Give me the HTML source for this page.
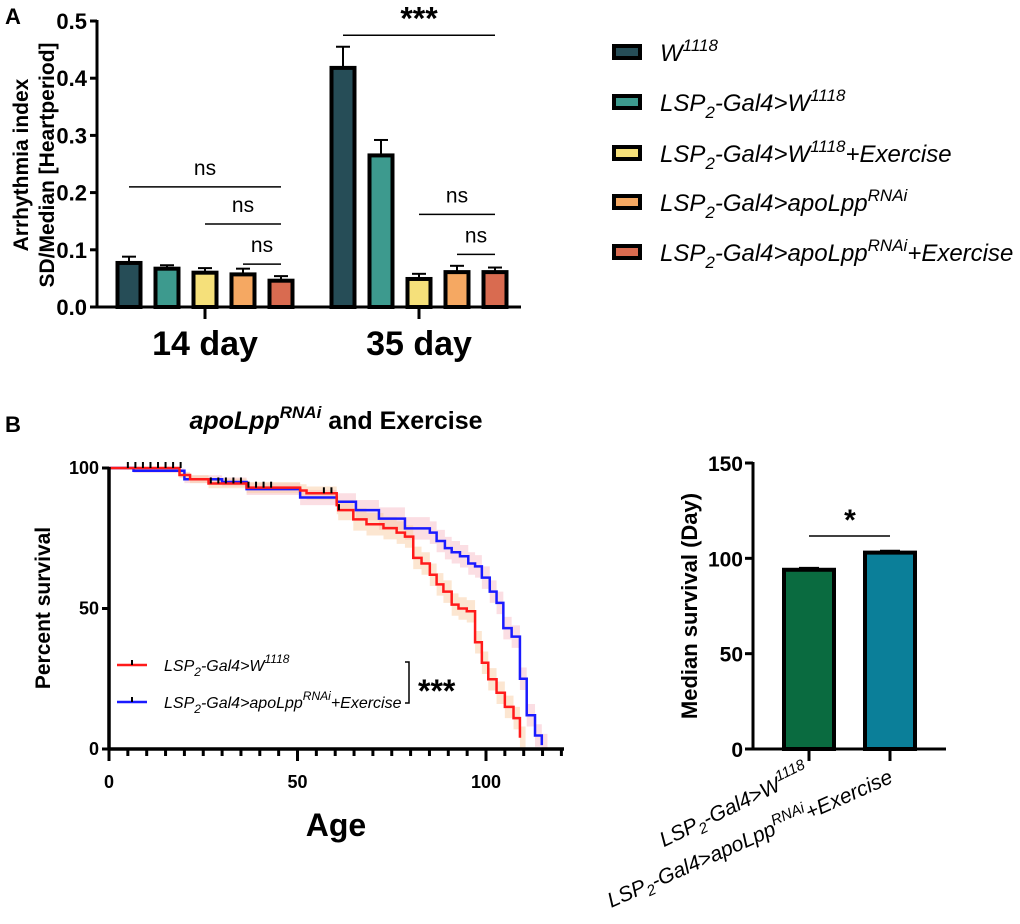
<!DOCTYPE html>
<html><head><meta charset="utf-8">
<style>
html,body{margin:0;padding:0;background:#fff;}
svg{display:block;font-family:"Liberation Sans",Arial,sans-serif;}
</style></head>
<body>
<svg id="fig" width="1020" height="924" viewBox="0 0 1020 924" xmlns="http://www.w3.org/2000/svg">
  <g id="panelA"></g>
  <g id="legendA"></g>
  <g id="panelB"></g>
  <g id="panelC"></g>
</svg>
<script>
// ---------- Panel A data ----------
const groupsA = ["14 day", "35 day"];
const seriesNamesA = ["W1118", "LSP2-Gal4>W1118", "LSP2-Gal4>W1118+Exercise", "LSP2-Gal4>apoLppRNAi", "LSP2-Gal4>apoLppRNAi+Exercise"];
const day14Values = [0.077, 0.067, 0.060, 0.057, 0.046];
const day14Errors = [0.011, 0.006, 0.008, 0.010, 0.008];
const day35Values = [0.418, 0.265, 0.049, 0.061, 0.061];
const day35Errors = [0.037, 0.027, 0.009, 0.011, 0.008];
const yTicksA = [0.0, 0.1, 0.2, 0.3, 0.4, 0.5];
const colorsA = ["#264d57", "#3d9a8e", "#f5e07a", "#f5a862", "#d96b50"];

// ---------- Panel B survival data (age, percent) ----------
const redAges = [0, 18.7, 21.5, 26.4, 36.5, 50.7, 52.4, 60.4, 60.8, 64.8, 68.3, 72.8, 76.3, 78.5, 80.7, 82.9, 85.1, 86.9, 88.7, 90.9, 92.7, 94.9, 97.1, 98.9, 100.6, 102.8, 105, 107.3, 109];
const redPct  = [100, 97.5, 96, 94.5, 93, 92, 91, 86.8, 85, 81.7, 80, 78.6, 77, 75.6, 68, 66, 62, 58.6, 56, 51.4, 50, 49, 38, 30.7, 24.8, 20, 15, 11, 4, 0];
const blueAges = [0, 6.5, 20, 30, 36.5, 50.7, 60.4, 65.5, 71.6, 78.5, 85.1, 86.9, 89.1, 90.9, 93.1, 95.3, 97.1, 98.9, 101, 102.8, 104.6, 106.8, 109, 110.8, 113, 114.8];
const bluePct  = [100, 99, 96, 95, 92.5, 89.5, 88, 85, 82, 78.5, 77, 74, 71.5, 70, 68.6, 66, 65, 61, 56, 52, 43, 40, 25, 12, 4.8, 1.4, 0];
const censorAgesTop = [5, 7, 9, 11, 13, 15, 17, 19];
const censorAgesMid = [27, 29, 31, 33, 35, 37, 39, 41, 43, 57, 59, 61];
const xTicksB = [0, 50, 100];
const yTicksB = [0, 50, 100];

// ---------- Panel C data ----------
const catsC = ["LSP2-Gal4>W1118", "LSP2-Gal4>apoLppRNAi+Exercise"];
const medianValues = [94, 103];
const medianErrors = [1, 1];
const yTicksC = [0, 50, 100, 150];
const colorsC = ["#0a6b40", "#0b7f99"];

const NS = "http://www.w3.org/2000/svg";
function mk(parent, tag, attrs, text) {
  const e = document.createElementNS(NS, tag);
  for (const k in attrs) e.setAttribute(k, attrs[k]);
  if (text !== undefined) e.textContent = text;
  parent.appendChild(e);
  return e;
}

// ===== Panel A =====
(function(){
  const g = document.getElementById('panelA');
  const y0 = 307, yTop = 21, yMax = 0.5;
  const yA = v => y0 - (v / yMax) * (y0 - yTop);
  const axX = 97;
  const groupCenters = [205, 419];
  const step = 38, bw = 23;
  const xBar = (gi, si) => groupCenters[gi] + (si - 2) * step;

  const lab = mk(g, 'text', {x: 5, y: 24, 'font-size': 22, 'font-weight': 'bold'}, 'A');
  
  

  const yt = mk(g, 'text', {transform: 'translate(28,165) rotate(-90)', 'text-anchor': 'middle', 'font-size': 21, 'font-weight': 'bold'}, 'Arrhythmia index');
  
  
  const yt2 = mk(g, 'text', {transform: 'translate(54,165) rotate(-90)', 'text-anchor': 'middle', 'font-size': 21, 'font-weight': 'bold'}, 'SD/Median [Heartperiod]');
  
  

  [day14Values, day35Values].forEach((vals, gi) => {
    const errs = gi === 0 ? day14Errors : day35Errors;
    vals.forEach((v, si) => {
      const cx = xBar(gi, si);
      const eb = mk(g, 'line', {x1: cx, x2: cx, y1: yA(v), y2: yA(v + errs[si]), stroke: '#000', 'stroke-width': 2});
      
      
      const ec = mk(g, 'line', {x1: cx - 7, x2: cx + 7, y1: yA(v + errs[si]), y2: yA(v + errs[si]), stroke: '#000', 'stroke-width': 2});
      
      
      const r = mk(g, 'rect', {x: cx - bw/2, y: yA(v), width: bw, height: y0 - yA(v), fill: colorsA[si], stroke: '#000', 'stroke-width': 4});
      
      
    });
  });

  mk(g, 'line', {x1: axX, x2: axX, y1: yTop - 1, y2: y0 + 1, stroke: '#000', 'stroke-width': 3});
  mk(g, 'line', {x1: axX - 1, x2: 521, y1: y0, y2: y0, stroke: '#000', 'stroke-width': 3});
  yTicksA.forEach(t => {
    mk(g, 'line', {x1: axX - 7, x2: axX, y1: yA(t), y2: yA(t), stroke: '#000', 'stroke-width': 3});
    const tl = mk(g, 'text', {x: axX - 10, y: yA(t) + 8, 'text-anchor': 'end', 'font-size': 22, 'font-weight': 'bold'}, t.toFixed(1));
    
    
  });
  groupsA.forEach((n, gi) => {
    mk(g, 'line', {x1: groupCenters[gi], x2: groupCenters[gi], y1: y0, y2: y0 + 12, stroke: '#000', 'stroke-width': 3});
    const tl = mk(g, 'text', {x: groupCenters[gi], y: 355, 'text-anchor': 'middle', 'font-size': 34, 'font-weight': 'bold'}, n);
    
    
  });

  const sig = [
    [0, 0, 4, 0.21, 'ns', 21], [0, 2, 4, 0.145, 'ns', 21], [0, 3, 4, 0.075, 'ns', 21],
    [1, 0, 4, 0.475, '***', 32], [1, 2, 4, 0.162, 'ns', 21], [1, 3, 4, 0.092, 'ns', 21]
  ];
  sig.forEach(s => {
    const x1 = xBar(s[0], s[1]), x2 = xBar(s[0], s[2]), y = yA(s[3]);
    const l = mk(g, 'line', {x1: x1, x2: x2, y1: y, y2: y, stroke: '#000', 'stroke-width': 1.5});
    
    
    const t = mk(g, 'text', {x: (x1 + x2) / 2, y: s[4] === '***' ? y - 6 : y - 12, 'text-anchor': 'middle', 'font-size': s[5], 'font-weight': s[4] === '***' ? 'bold' : 'normal'}, s[4]);
    
    
  });
})();

// ===== Legend A =====
(function(){
  const g = document.getElementById('legendA');
  const ys = [52, 102, 153, 202, 252];
  const html = [
    '<tspan>W</tspan><tspan dy="-10" font-size="17">1118</tspan>',
    'LSP<tspan dy="7" font-size="17">2</tspan><tspan dy="-7">-Gal4&gt;W</tspan><tspan dy="-10" font-size="17">1118</tspan>',
    'LSP<tspan dy="7" font-size="17">2</tspan><tspan dy="-7">-Gal4&gt;W</tspan><tspan dy="-10" font-size="17">1118</tspan><tspan dy="10">+Exercise</tspan>',
    'LSP<tspan dy="7" font-size="17">2</tspan><tspan dy="-7">-Gal4&gt;apoLpp</tspan><tspan dy="-10" font-size="17">RNAi</tspan>',
    'LSP<tspan dy="7" font-size="17">2</tspan><tspan dy="-7">-Gal4&gt;apoLpp</tspan><tspan dy="-10" font-size="17">RNAi</tspan><tspan dy="10">+Exercise</tspan>'
  ];
  ys.forEach((y, i) => {
    const r = mk(g, 'rect', {x: 614, y: y - 6, width: 26, height: 12, fill: colorsA[i], stroke: '#000', 'stroke-width': 4});
    
    
    const t = mk(g, 'text', {x: 660, y: y + 9, 'font-size': 24, 'font-style': 'italic'});
    t.innerHTML = html[i];
    
    
  });
})();

// ===== Panel B (survival) =====
(function(){
  const g = document.getElementById('panelB');
  const xB = a => 109 + a * 3.77;
  const yB = p => 749 - p * 2.81;

  const lab = mk(g, 'text', {x: 5, y: 432, 'font-size': 22, 'font-weight': 'bold'}, 'B');
  
  
  const title = mk(g, 'text', {x: 336, y: 429, 'text-anchor': 'middle', 'font-size': 25, 'font-weight': 'bold'});
  title.innerHTML = '<tspan font-style="italic">apoLpp</tspan><tspan dy="-11" font-size="17" font-style="italic">RNAi</tspan><tspan dy="11"> and Exercise</tspan>';
  
  

  function stepPath(ages, pct) {
    let d = 'M' + xB(ages[0]) + ',' + yB(pct[0]);
    for (let i = 1; i < ages.length; i++) {
      d += ' H' + xB(ages[i]) + ' V' + yB(pct[i]);
    }
    return d;
  }
  function band(ages, pct, w, color, name) {
    let up = [], lo = [];
    for (let i = 0; i < ages.length; i++) {
      const a0 = xB(ages[i]), a1 = xB(i + 1 < ages.length ? ages[i + 1] : ages[i] + 1.5);
      const p = pct[i];
      const hw = w * Math.min(1, (100 - p) / 20 + 0.15);
      up.push([a0, yB(Math.min(100, p + hw))], [a1, yB(Math.min(100, p + hw))]);
      lo.push([a0, yB(Math.max(0, p - hw))], [a1, yB(Math.max(0, p - hw))]);
    }
    const pts = up.concat(lo.reverse()).map(q => q.join(',')).join(' ');
    const b = mk(g, 'polygon', {points: pts, fill: color, opacity: 0.45});
    
    
  }
  band(blueAges, bluePct, 4, '#f7b6c2', 'confidence-band-exercise');
  band(redAges, redPct, 4, '#f9c89a', 'confidence-band-control');

  const bl = mk(g, 'path', {d: stepPath(blueAges, bluePct), fill: 'none', stroke: '#1a1aff', 'stroke-width': 2.5});
  
  
  const rl = mk(g, 'path', {d: stepPath(redAges, redPct), fill: 'none', stroke: '#ff1a1a', 'stroke-width': 2.5});
  
  

  censorAgesTop.forEach(a => {
    const c = mk(g, 'line', {x1: xB(a), x2: xB(a), y1: yB(100) - 6, y2: yB(100), stroke: '#000', 'stroke-width': 2});
    
    
  });
  censorAgesMid.forEach(a => {
    let p = 100;
    for (let i = 0; i < redAges.length; i++) if (redAges[i] <= a) p = redPct[i];
    const c = mk(g, 'line', {x1: xB(a), x2: xB(a), y1: yB(p) - 6, y2: yB(p), stroke: '#000', 'stroke-width': 2});
    
    
  });

  mk(g, 'line', {x1: 109, x2: 109, y1: yB(100) - 1, y2: yB(0) + 1, stroke: '#000', 'stroke-width': 3.5});
  mk(g, 'line', {x1: 109, x2: 564, y1: yB(0), y2: yB(0), stroke: '#000', 'stroke-width': 3.5});
  for (let a = 0; a <= 120; a += 5) {
    const major = a % 50 === 0;
    mk(g, 'line', {x1: xB(a), x2: xB(a), y1: yB(0), y2: yB(0) + (major ? 12 : 7), stroke: '#000', 'stroke-width': 3});
  }
  yTicksB.forEach(t => {
    mk(g, 'line', {x1: 102, x2: 109, y1: yB(t), y2: yB(t), stroke: '#000', 'stroke-width': 3});
    const tl = mk(g, 'text', {x: 99, y: yB(t) + 6, 'text-anchor': 'end', 'font-size': 18, 'font-weight': 'bold'}, String(t));
    
    
  });
  xTicksB.forEach(t => {
    const tl = mk(g, 'text', {x: xB(t), y: 788, 'text-anchor': 'middle', 'font-size': 18, 'font-weight': 'bold'}, String(t));
    
    
  });
  const xt = mk(g, 'text', {x: 336, y: 836, 'text-anchor': 'middle', 'font-size': 32, 'font-weight': 'bold'}, 'Age');
  
  
  const yt = mk(g, 'text', {transform: 'translate(50,608) rotate(-90)', 'text-anchor': 'middle', 'font-size': 21, 'font-weight': 'bold'}, 'Percent survival');
  
  

  const lg = mk(g, 'g', {});
  
  
  [[665, '#ff1a1a', 'LSP<tspan dy="5" font-size="12">2</tspan><tspan dy="-5">-Gal4&gt;W</tspan><tspan dy="-8" font-size="12">1118</tspan>'],
   [702, '#1a1aff', 'LSP<tspan dy="5" font-size="12">2</tspan><tspan dy="-5">-Gal4&gt;apoLpp</tspan><tspan dy="-8" font-size="12">RNAi</tspan><tspan dy="8">+Exercise</tspan>']].forEach((L, i) => {
    mk(lg, 'line', {x1: 117, x2: 147, y1: L[0], y2: L[0], stroke: L[1], 'stroke-width': 2.5});
    mk(lg, 'line', {x1: 132, x2: 132, y1: L[0] - 5, y2: L[0], stroke: '#000', 'stroke-width': 2});
    const t = mk(lg, 'text', {x: 164, y: L[0] + 6, 'font-size': 16, 'font-style': 'italic'});
    t.innerHTML = L[2];
    
    
  });
  mk(g, 'path', {d: 'M405,662 H409 V703 H405', fill: 'none', stroke: '#000', 'stroke-width': 1.5});
  const st = mk(g, 'text', {x: 418, y: 702, 'font-size': 32, 'font-weight': 'bold'}, '***');
  
  
})();

// ===== Panel C (median survival) =====
(function(){
  const g = document.getElementById('panelC');
  const y0 = 749, yTop = 463, yMax = 150;
  const yC = v => y0 - (v / yMax) * (y0 - yTop);
  const centers = [809, 890], bw = 50;

  medianValues.forEach((v, i) => {
    const cx = centers[i];
    mk(g, 'line', {x1: cx, x2: cx, y1: yC(v), y2: yC(v + medianErrors[i]), stroke: '#000', 'stroke-width': 2});
    mk(g, 'line', {x1: cx - 10, x2: cx + 10, y1: yC(v + medianErrors[i]), y2: yC(v + medianErrors[i]), stroke: '#000', 'stroke-width': 2});
    const r = mk(g, 'rect', {x: cx - bw/2, y: yC(v), width: bw, height: y0 - yC(v), fill: colorsC[i], stroke: '#000', 'stroke-width': 4});
    
    
  });
  mk(g, 'line', {x1: 753, x2: 753, y1: yTop - 1, y2: y0 + 1, stroke: '#000', 'stroke-width': 3});
  mk(g, 'line', {x1: 752, x2: 946, y1: y0, y2: y0, stroke: '#000', 'stroke-width': 3});
  yTicksC.forEach(t => {
    mk(g, 'line', {x1: 745, x2: 753, y1: yC(t), y2: yC(t), stroke: '#000', 'stroke-width': 3});
    const tl = mk(g, 'text', {x: 743, y: yC(t) + 8, 'text-anchor': 'end', 'font-size': 21, 'font-weight': 'bold'}, String(t));
    
    
  });
  centers.forEach(cx => mk(g, 'line', {x1: cx, x2: cx, y1: y0, y2: y0 + 12, stroke: '#000', 'stroke-width': 3}));
  const yt = mk(g, 'text', {transform: 'translate(697,606) rotate(-90)', 'text-anchor': 'middle', 'font-size': 22, 'font-weight': 'bold'}, 'Median survival (Day)');
  
  
  const sl = mk(g, 'line', {x1: 809, x2: 890, y1: 536, y2: 536, stroke: '#000', 'stroke-width': 1.5});
  
  
  const s = mk(g, 'text', {x: 850, y: 530, 'text-anchor': 'middle', 'font-size': 30, 'font-weight': 'bold'}, '*');
  
  

  const l1 = mk(g, 'text', {transform: 'translate(810,776) rotate(-26)', 'text-anchor': 'end', 'font-size': 21, 'font-style': 'italic'});
  l1.innerHTML = 'LSP<tspan dy="5" font-size="15">2</tspan><tspan dy="-5">-Gal4&gt;W</tspan><tspan dy="-9" font-size="15">1118</tspan>';
  
  
  const l2 = mk(g, 'text', {transform: 'translate(894,782) rotate(-24)', 'text-anchor': 'end', 'font-size': 21, 'font-style': 'italic'});
  l2.innerHTML = 'LSP<tspan dy="5" font-size="15">2</tspan><tspan dy="-5">-Gal4&gt;apoLpp</tspan><tspan dy="-9" font-size="15">RNAi</tspan><tspan dy="9">+Exercise</tspan>';
  
  
})();
</script>
</body></html>
